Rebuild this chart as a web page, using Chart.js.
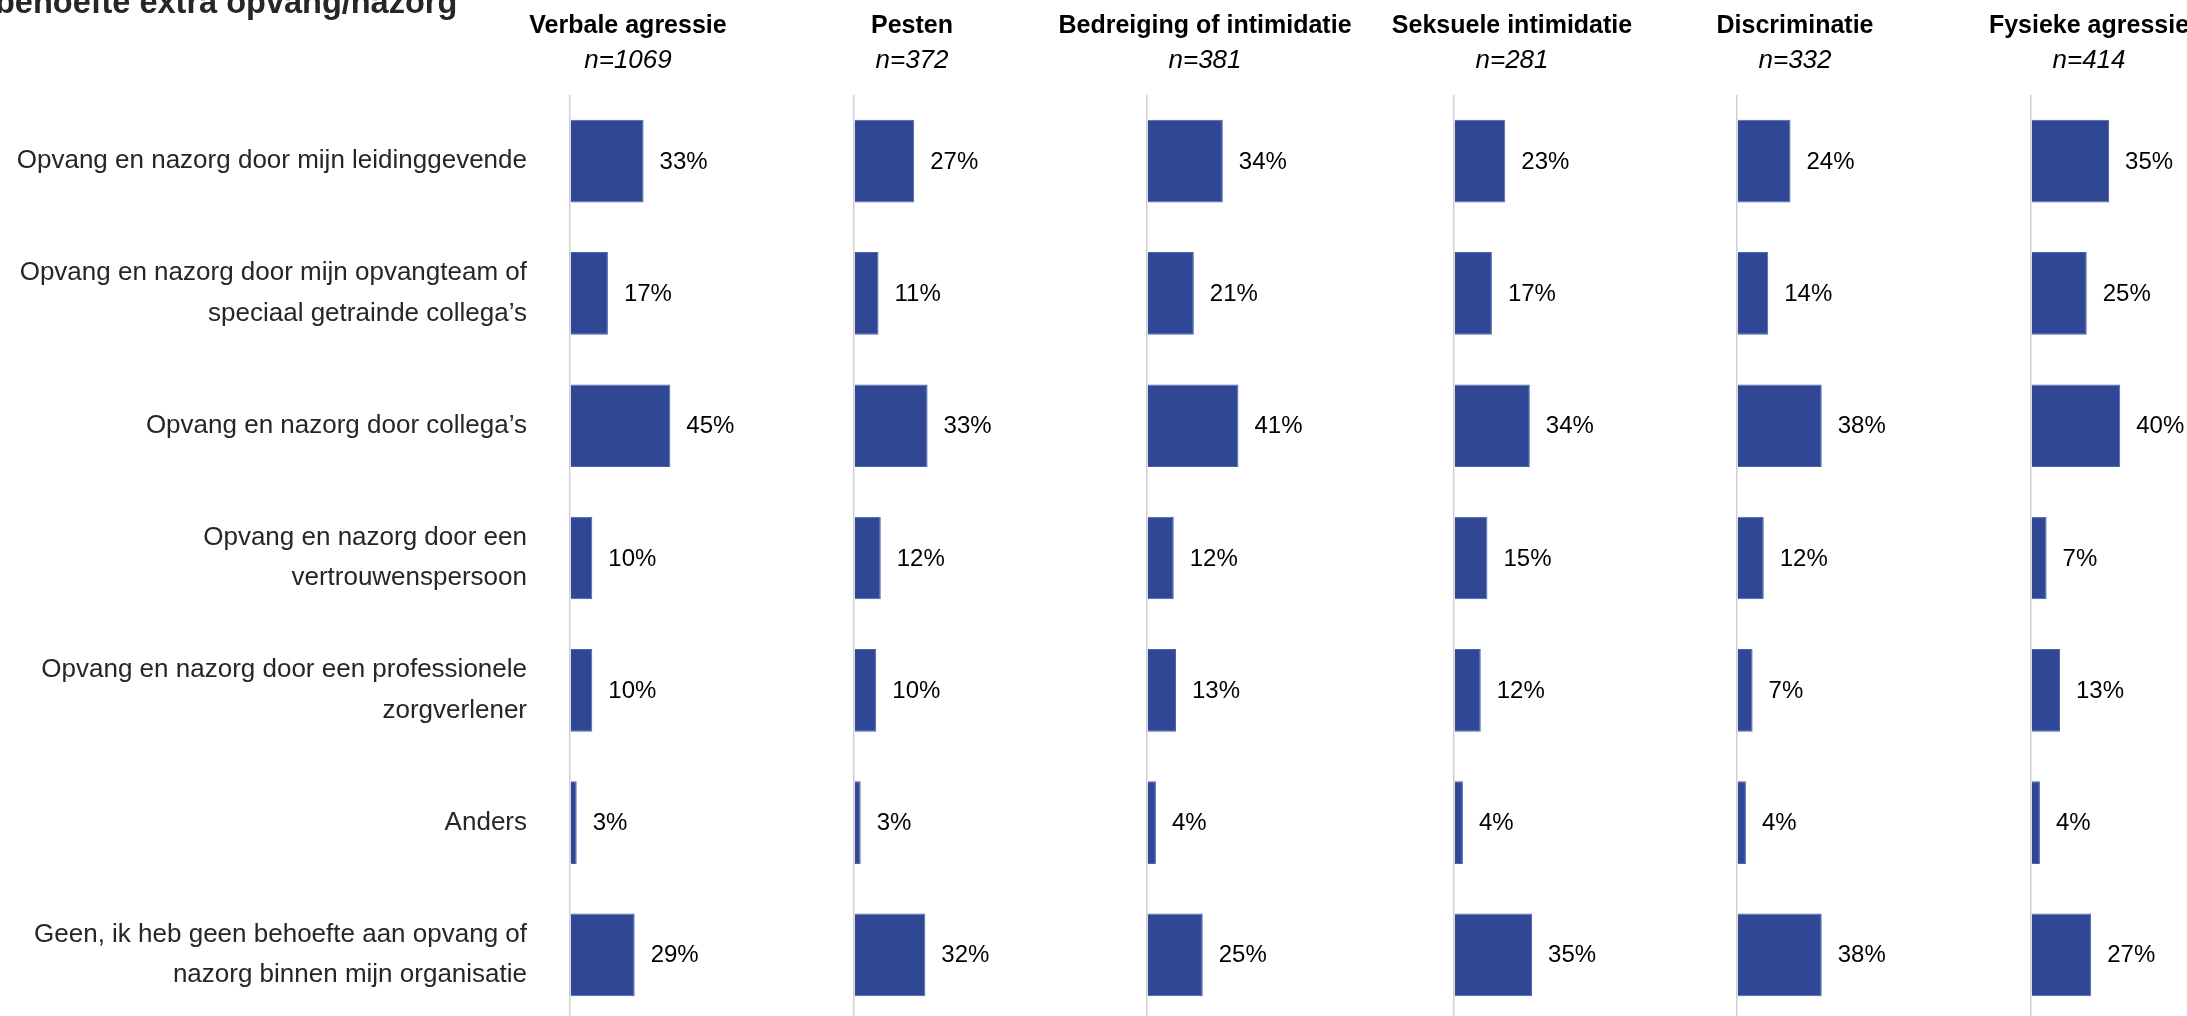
<!DOCTYPE html>
<html>
<head>
<meta charset="utf-8">
<script src="https://cdn.jsdelivr.net/npm/chart.js@4.4.0/dist/chart.umd.min.js"></script>
<style>
  body { margin: 0; overflow: hidden; background: #fff; }
  canvas { display: block; }
</style>
</head>
<body>
<canvas id="grafiek" width="2187" height="1030"></canvas>
<script>
const categorieen = [
    'Opvang en nazorg door mijn leidinggevende',
    ['Opvang en nazorg door mijn opvangteam of', 'speciaal getrainde collega’s'],
    'Opvang en nazorg door collega’s',
    ['Opvang en nazorg door een', 'vertrouwenspersoon'],
    ['Opvang en nazorg door een professionele', 'zorgverlener'],
    'Anders',
    ['Geen, ik heb geen behoefte aan opvang of', 'nazorg binnen mijn organisatie']
];
const panelen = ['Verbale agressie', 'Pesten', 'Bedreiging of intimidatie', 'Seksuele intimidatie', 'Discriminatie', 'Fysieke agressie'];
const aantallen = [1069, 372, 381, 281, 332, 414];

const verbaleAgressie = [33, 17, 45, 10, 10, 3, 29];
const pesten = [27, 11, 33, 12, 10, 3, 32];
const bedreiging = [34, 21, 41, 12, 13, 4, 25];
const seksueleIntimidatie = [23, 17, 34, 15, 12, 4, 35];
const discriminatie = [24, 14, 38, 12, 7, 4, 38];
const fysiekeAgressie = [35, 25, 40, 7, 13, 4, 27];

const reeksen = [verbaleAgressie, pesten, bedreiging, seksueleIntimidatie, discriminatie, fysiekeAgressie];

// opmaak: breedte van elk paneel (px) en schaal
const paneelBreedte = [284, 293, 307, 283, 294, 156];
const pxPerProcent = 2.23;
const font = '"Liberation Sans", Arial, sans-serif';
const blauw = '#2F4794';

const schalen = {
    y: {
        type: 'category',
        position: 'left',
        grid: { display: false },
        border: { display: false },
        ticks: { color: '#262626', padding: 35, font: { family: font, size: 26, lineHeight: 1.55 } },
        afterFit: function(scale) {
            scale.width = 570;
            scale.paddingTop = 0;
            scale.paddingBottom = 0;
        }
    }
};

const datasets = reeksen.map(function(reeks, i) {
    const max = paneelBreedte[i] / pxPerProcent;
    schalen['x' + i] = {
        type: 'linear',
        position: 'bottom',
        stack: 'panelen',
        stackWeight: max,
        min: 0,
        max: max,
        ticks: { display: false, stepSize: 1000 },
        border: { display: false },
        grid: {
            drawTicks: false,
            lineWidth: 1.5,
            color: function(c) { return c.tick && c.tick.value === 0 ? '#d0d0d0' : 'rgba(0,0,0,0)'; }
        },
        afterFit: function(scale) { scale.height = 0; }
    };
    return {
        label: panelen[i],
        data: reeks,
        xAxisID: 'x' + i,
        yAxisID: 'y',
        backgroundColor: blauw,
        borderColor: '#4C63AA',
        borderWidth: 1,
        grouped: false,
        categoryPercentage: 1,
        barPercentage: 0.625
    };
});

const tekstPlugin = {
    id: 'teksten',
    afterDatasetsDraw: function(chart) {
        const ctx = chart.ctx;
        ctx.save();
        ctx.fillStyle = '#000';
        ctx.textAlign = 'left';
        ctx.textBaseline = 'middle';
        ctx.font = '24px ' + font;
        chart.data.datasets.forEach(function(ds, i) {
            chart.getDatasetMeta(i).data.forEach(function(bar, j) {
                ctx.fillText(ds.data[j] + '%', bar.x + 16, bar.y + 1);
            });
        });

        ctx.textAlign = 'center';
        ctx.textBaseline = 'alphabetic';
        panelen.forEach(function(titel, i) {
            const cx = chart.scales['x' + i].left + 58;
            ctx.font = 'bold 25px ' + font;
            ctx.fillText(titel, cx, 33);
            ctx.font = 'italic 26px ' + font;
            ctx.fillText('n=' + aantallen[i], cx, 68);
        });

        ctx.textAlign = 'left';
        ctx.font = 'bold 32.5px ' + font;
        ctx.fillStyle = '#262626';
        ctx.fillText('behoefte extra opvang/nazorg', -5, 13);
        ctx.restore();
    }
};

new Chart(document.getElementById('grafiek'), {
    type: 'bar',
    data: { labels: categorieen, datasets: datasets },
    options: {
        indexAxis: 'y',
        responsive: false,
        animation: false,
        layout: { padding: { top: 95, bottom: 9, left: 0, right: 0 } },
        plugins: { legend: { display: false }, tooltip: { enabled: false } },
        scales: schalen
    },
    plugins: [tekstPlugin]
});
</script>
</body>
</html>
